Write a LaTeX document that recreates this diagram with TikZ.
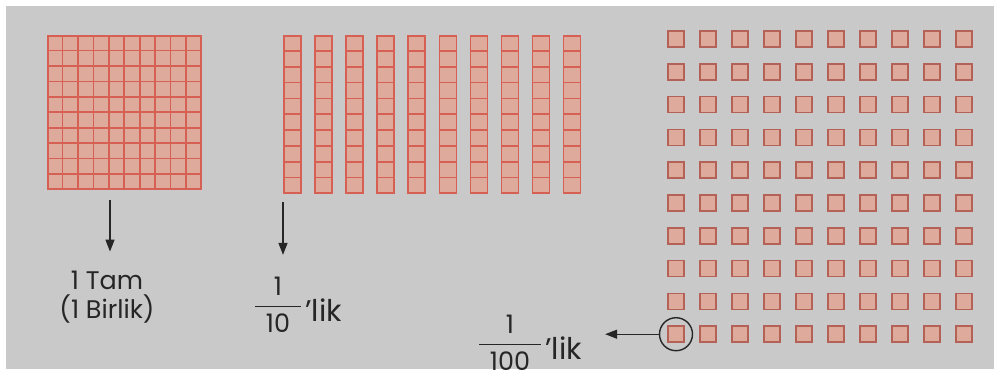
\documentclass[tikz,border=0pt]{standalone}
\usepackage{amsmath}
\usepackage{fontspec}
\setmainfont{Poppins}
\usetikzlibrary{arrows.meta, positioning, calc}
\definecolor{paper}{RGB}{201,201,201}
\definecolor{blockfill}{RGB}{222,170,155}
\definecolor{blockline}{RGB}{214,96,84}
\definecolor{unitline}{RGB}{180,98,88}
\definecolor{ink}{RGB}{38,38,38}
\newcommand{\fr}[2]{\(\dfrac{\text{\hspace{6pt}#1\hspace{6pt}}\rule[-3pt]{0pt}{3pt}}{\rule{0pt}{13pt}\text{\hspace{6pt}#2\hspace{6pt}}}\)}

\begin{document}
\begin{tikzpicture}[
    x=0.02cm, y=-0.02cm,
    font=\fontsize{14.5}{16.5}\selectfont,
    blk/.style={rectangle, fill=blockfill, draw=blockline, line width=0.9pt, inner sep=0pt, anchor=north west},
    unit/.style={rectangle, fill=blockfill, draw=unitline, line width=1pt, minimum size=0.32cm, inner sep=0pt},
    lbl/.style={text=ink, align=center, inner sep=0pt},
    lik/.style={lbl, font=\fontsize{17}{19}\selectfont},
    arr/.style={-{Triangle[length=2.4mm, width=1.8mm]}, draw=ink, fill=ink, line width=0.8pt}
]
\fill[white] (0,0) rectangle (994,369);
\fill[paper] (6,6) rectangle (994,369);
\useasboundingbox (0,0) rectangle (994,369);

% 1 whole: 10 x 10 grid
\node[blk, minimum size=3.06cm] (whole) at (47,35) {};
\foreach \k in {1,...,9} {
    \draw[blockline, line width=0.9pt] ($(whole.north west)!\k/10!(whole.north east)$) -- ($(whole.south west)!\k/10!(whole.south east)$);
    \draw[blockline, line width=0.9pt] ($(whole.north west)!\k/10!(whole.south west)$) -- ($(whole.north east)!\k/10!(whole.south east)$);
}

% tenths: ten rods
\foreach \r in {0,...,9} {
    \node[blk, minimum width=0.34cm, minimum height=3.14cm] (rod\r) at ({283+31.1*\r},35) {};
    \foreach \k in {1,...,9}
        \draw[blockline, line width=0.9pt] ($(rod\r.north west)!\k/10!(rod\r.south west)$) -- ($(rod\r.north east)!\k/10!(rod\r.south east)$);
}

% hundredths
\foreach \i in {0,...,9}
    \foreach \j in {0,...,9}
        \node[unit] (u-\i-\j) at ({676+32*\i},{39+32.8*\j}) {};
\node[circle, draw=ink, line width=0.8pt, minimum size=0.66cm, inner sep=0pt] (pick) at (u-0-9) {};

% labels
\node[lbl] (tam) at (107,297) {1 Tam\\(1 Birlik)};
\node[lbl] (tenfrac) at (278,305) {\fr{1}{10}};
\node[lik, right=1pt of tenfrac, yshift=-3pt] (tenlik) {’lik};
\node[lbl] (hundfrac) at (510,343) {\fr{1}{100}};
\node[lik, right=1pt of hundfrac, yshift=-3pt] (hundlik) {’lik};

\coordinate (a1) at (110,200);
\coordinate (a2) at (283,202);
\draw[arr, shorten >=0.38cm] (a1) -- (a1 |- tam.north);
\draw[arr, shorten >=0.44cm] (a2) -- (a2 |- tenfrac.north);
\draw[arr, shorten >=0.46cm] (pick.west) -- (pick.west -| hundlik.east);
\end{tikzpicture}
\end{document}
